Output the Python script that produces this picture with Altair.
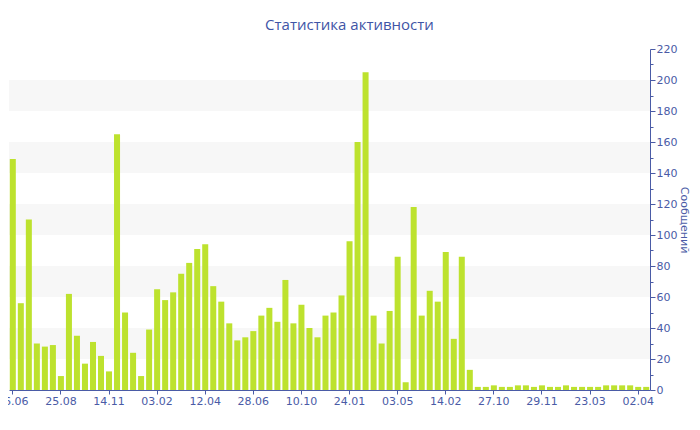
import altair as alt
import pandas as pd

values = [149, 56, 110, 30, 28, 29, 9, 62, 35, 17,
          31, 22, 12, 165, 50, 24, 9, 39, 65, 58,
          63, 75, 82, 91, 94, 67, 57, 43, 32, 34,
          38, 48, 53, 44, 71, 43, 55, 40, 34, 48,
          50, 61, 96, 160, 205, 48, 30, 51, 86, 5,
          118, 48, 64, 57, 89, 33, 86, 13, 2, 2,
          3, 2, 2, 3, 3, 2, 3, 2, 2, 3,
          2, 2, 2, 2, 3, 3, 3, 3, 2, 2]
tick_labels = ["16.06", "25.08", "14.11", "03.02", "12.04", "28.06", "10.10",
               "24.01", "03.05", "14.02", "27.10", "29.11", "23.03", "02.04"]
band_lo = [20, 60, 100, 140, 180]
band_hi = [40, 80, 120, 160, 200]

AXIS_BLUE = "#4a5ba6"
BAR = "#bde22e"

df = pd.DataFrame({"idx": list(range(len(values))), "v": values})
bands = pd.DataFrame({"lo": band_lo, "hi": band_hi})

label_arr = "[" + ",".join("'%s'" % s for s in tick_labels) + "]"

yscale = alt.Scale(domain=[0, 220], nice=False)
yaxis = alt.Axis(orient="right", values=list(range(0, 221, 10)),
                 labelExpr="datum.value % 20 === 0 ? datum.label : ''",
                 tickSize={"condition": {"test": "datum.value % 20 === 0", "value": 5}, "value": 3},
                 grid=False, title="Сообщений", titleColor=AXIS_BLUE,
                 titleFont="DejaVu Sans", titleFontSize=11, titleFontWeight="normal",
                 titlePadding=2, titleAngle=90, domainColor=AXIS_BLUE, tickColor=AXIS_BLUE,
                 labelColor=AXIS_BLUE, labelFont="DejaVu Sans", labelFontSize=11,
                 labelPadding=1)

band_layer = alt.Chart(bands).mark_rect(color="#f7f7f7").encode(
    y=alt.Y("lo:Q", scale=yscale, axis=yaxis),
    y2="hi:Q",
)

bar_layer = alt.Chart(df).mark_bar(color=BAR).encode(
    x=alt.X("idx:O", scale=alt.Scale(paddingInner=0.25, paddingOuter=0.1),
            axis=alt.Axis(values=list(range(0, 80, 6)), labelAngle=0,
                          labelExpr=label_arr + "[datum.value/6]",
                          title=None, domainColor=AXIS_BLUE, tickColor=AXIS_BLUE,
                          tickSize=4, labelColor=AXIS_BLUE, labelFont="DejaVu Sans",
                          labelFontSize=11, labelPadding=1)),
    y=alt.Y("v:Q", scale=yscale, axis=yaxis),
)

chart = alt.layer(band_layer, bar_layer).properties(
    width=641, height=341,
    title=alt.TitleParams("Статистика активности", font="Open Sans", fontSize=15,
                          fontWeight="normal", color="#3f55a6", offset=10, dx=20),
    autosize=alt.AutoSizeParams(type="none"),
    padding={"left": 1, "top": 41, "right": 42, "bottom": 22},
).configure(background="white").configure_view(stroke=None)

chart.save("out.html", embed_options={"renderer": "svg", "actions": False})
